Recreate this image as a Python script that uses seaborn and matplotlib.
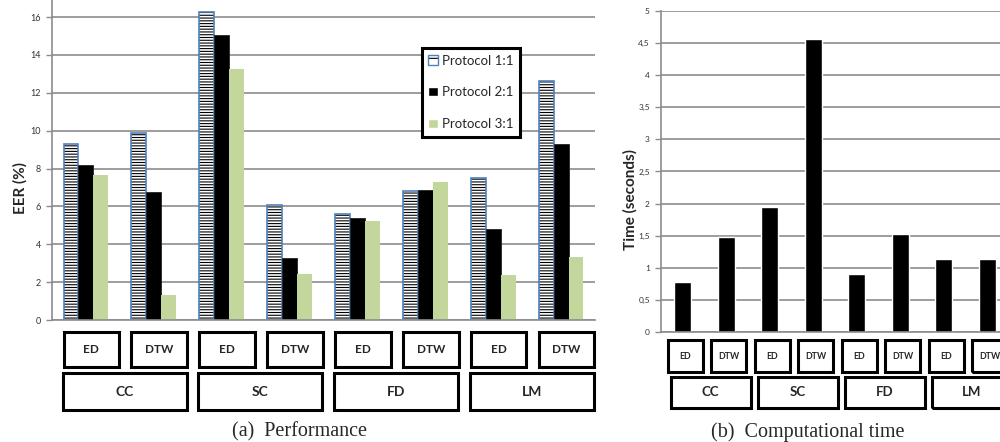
import matplotlib
matplotlib.use("Agg")
import matplotlib.pyplot as plt
import matplotlib.transforms as mtransforms
from matplotlib.colors import to_rgba
from matplotlib.patches import Patch, Rectangle
from matplotlib.ticker import FuncFormatter
import numpy as np
import pandas as pd
import seaborn as sns

# ---------------------------------------------------------------------------
# Data
# ---------------------------------------------------------------------------
families = ["CC", "SC", "FD", "LM"]
methods = ["ED", "DTW"]
protocols = ["Protocol 1:1", "Protocol 2:1", "Protocol 3:1"]

eer_p1 = [9.30, 9.88, 16.24, 6.07, 5.60, 6.82, 7.51, 12.60]
eer_p2 = [8.20, 6.74, 15.07, 3.29, 5.37, 6.84, 4.78, 9.30]
eer_p3 = [7.65, 1.32, 13.23, 2.44, 5.21, 7.30, 2.37, 3.32]

time_sec = [0.78, 1.48, 1.94, 4.56, 0.90, 1.53, 1.14, 1.14]

eer_ticks = [0, 2, 4, 6, 8, 10, 12, 14, 16]
time_ticks = [0, 0.5, 1, 1.5, 2, 2.5, 3, 3.5, 4, 4.5, 5]

# ---------------------------------------------------------------------------
# Style
# ---------------------------------------------------------------------------
sns.set_style("white")
plt.rcParams["font.family"] = ["Lato", "DejaVu Sans"]
plt.rcParams["hatch.linewidth"] = 0.8

GRID = "#8c8c8c"
BLUE = "#4f81bd"
GREEN = "#c3d69b"

categories = [f"{f} {m}" for f in families for m in methods]
eer_df = pd.DataFrame({
    "cat": categories * 3,
    "eer": eer_p1 + eer_p2 + eer_p3,
    "protocol": np.repeat(protocols, len(categories)),
})
time_df = pd.DataFrame({"cat": categories, "time": time_sec})

fig = plt.figure(figsize=(10, 4.42), dpi=100)
ax1 = fig.add_axes([0.052, 0.276, 0.543, 0.724])
ax2 = fig.add_axes([0.661, 0.249, 0.348, 0.726])


def style_axis(ax, ticks, ylim, fontsize):
    ax.set_ylim(*ylim)
    ax.set_yticks(ticks)
    ax.yaxis.grid(True, color=GRID, linewidth=1.2)
    ax.xaxis.grid(False)
    ax.set_axisbelow(True)
    for side in ("top", "right"):
        ax.spines[side].set_visible(False)
    for side in ("left", "bottom"):
        ax.spines[side].set_color(GRID)
        ax.spines[side].set_linewidth(1.2)
    ax.tick_params(axis="y", which="both", left=True, length=4, width=1,
                   color=GRID, labelsize=fontsize, labelcolor="#333333", pad=4)
    ax.tick_params(axis="x", bottom=False, labelbottom=False)
    ax.set_xlabel("")
    ax.set_ylabel("")


def draw_boxes(ax, labels, centers, width, y0, y1, fontsize, lw=2.2):
    # boxed category labels under the axis: x in data units, y in figure units
    trans = mtransforms.blended_transform_factory(ax.transData, fig.transFigure)
    for lab, c in zip(labels, centers):
        ax.add_patch(Rectangle((c - width / 2, y0), width, y1 - y0,
                               transform=trans, fill=False, edgecolor="black",
                               linewidth=lw, clip_on=False))
        ax.text(c, (y0 + y1) / 2, lab, transform=trans, ha="center",
                va="center", fontsize=fontsize, fontweight="bold",
                clip_on=False)


# ---------------------------------------------------------------------------
# (a) Performance
# ---------------------------------------------------------------------------
sns.barplot(data=eer_df, x="cat", y="eer", hue="protocol", hue_order=protocols,
            palette=["white", "black", GREEN], saturation=1, width=0.66,
            legend=False, ax=ax1)

for bar in ax1.containers[0]:
    bar.set_hatch("------")
    bar.set_edgecolor(BLUE)
    bar.set_linewidth(1.2)
    bar._hatch_color = to_rgba("black")
for bar in ax1.containers[1]:
    bar.set_edgecolor("#222222")
    bar.set_linewidth(0.6)
for bar in ax1.containers[2]:
    bar.set_linewidth(0)

style_axis(ax1, eer_ticks, (0, 16.9), 6.5)

h1 = Patch(facecolor="white", edgecolor=BLUE, hatch="-", linewidth=1.0)
h1._hatch_color = to_rgba("black")
handles = [h1, Patch(facecolor="black"), Patch(facecolor=GREEN)]
leg = ax1.legend(handles, protocols, loc="upper left",
                 bbox_to_anchor=(0.681, 0.85), borderaxespad=0,
                 fontsize=9.5, frameon=True, fancybox=False, framealpha=1,
                 edgecolor="black", labelspacing=1.5, handlelength=0.7,
                 handleheight=0.7, handletextpad=0.35, borderpad=0.5)
leg.get_frame().set_linewidth(2.2)

n = len(categories)
cat_pos = np.arange(n)
grp_pos = np.arange(len(families)) * 2 + 0.5
draw_boxes(ax1, methods * len(families), cat_pos + 0.08, 0.82,
           0.170, 0.249, 8.5)
draw_boxes(ax1, families, grp_pos + 0.07, 1.83, 0.072, 0.156, 10)
ax1.set_xlim(-0.5, n - 0.5)

fig.text(0.020, 0.575, "EER (%)", rotation=90, ha="center", va="center",
         fontsize=11, fontweight="bold")
fig.text(0.30, 0.023, "(a)  Performance", ha="center", va="center",
         fontsize=14.5, family="Liberation Serif")

# ---------------------------------------------------------------------------
# (b) Computational time
# ---------------------------------------------------------------------------
sns.barplot(data=time_df, x="cat", y="time", color="black", saturation=1,
            width=0.39, ax=ax2)
style_axis(ax2, time_ticks, (0, 5), 6)
ax2.yaxis.set_major_formatter(
    FuncFormatter(lambda v, _: f"{v:g}".replace(".", ",")))

draw_boxes(ax2, methods * len(families), cat_pos + 0.06, 0.81,
           0.158, 0.231, 6.3)
draw_boxes(ax2, families, grp_pos + 0.14, 1.84, 0.077, 0.147, 9.5)
ax2.set_xlim(-0.5, n - 0.5)

fig.text(0.630, 0.548, "Time (seconds)", rotation=90, ha="center",
         va="center", fontsize=11, fontweight="bold")
fig.text(0.808, 0.023, "(b)  Computational time", ha="center", va="center",
         fontsize=14.5, family="Liberation Serif")

fig.savefig("out.png", dpi=100)
